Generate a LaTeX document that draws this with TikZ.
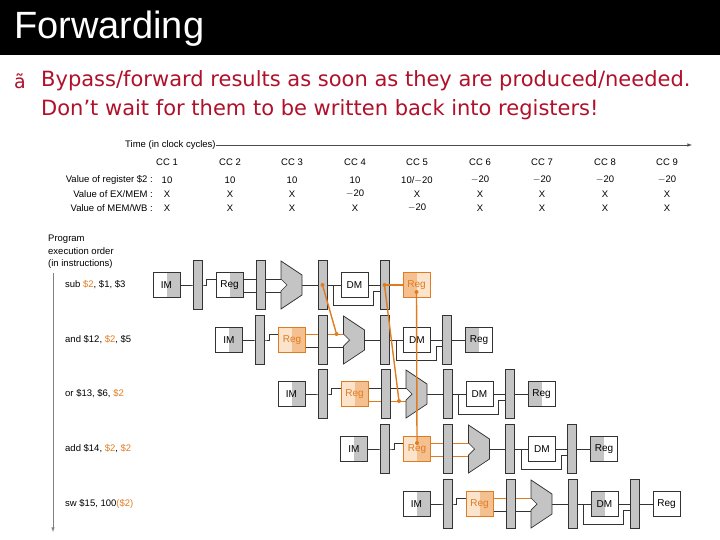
\documentclass[tikz,border=0pt]{standalone}
\usepackage{fontspec}
\setmainfont{Liberation Sans}
\newfontfamily\dejavu{DejaVu Sans}
\usetikzlibrary{calc,backgrounds}
\definecolor{fwd}{HTML}{E07B20}
\definecolor{lor}{HTML}{FBE3CC}
\definecolor{dor}{HTML}{F5C08F}
\definecolor{gfill}{HTML}{C4C4C4}
\definecolor{redtxt}{HTML}{B0102A}
\begin{document}
\begin{tikzpicture}[x=1bp,y=-1bp,font=\fontsize{9.5bp}{11bp}\selectfont,
  unit/.style={draw=black!80,line width=0.7bp,minimum width=27bp,minimum height=25bp,inner sep=0pt,font=\fontsize{10bp}{11bp}\selectfont},
  plain/.style={},
  rshade/.style={path picture={\fill[gfill] (path picture bounding box.north) rectangle (path picture bounding box.south east);}},
  lshade/.style={path picture={\fill[gfill] (path picture bounding box.north west) rectangle (path picture bounding box.south);}},
  oregr/.style={draw=fwd,text=fwd,fill=lor,path picture={\fill[dor] (path picture bounding box.north) rectangle (path picture bounding box.south east);}},
  oregl/.style={draw=fwd,text=fwd,fill=lor,path picture={\fill[dor] (path picture bounding box.north west) rectangle (path picture bounding box.south);}},
  preg/.style={draw=black!80,fill=gfill,line width=0.7bp,minimum width=9bp,minimum height=49bp,inner sep=0pt},
  wire/.style={black!80,line width=0.7bp},
  fw/.style={fwd,line width=1.4bp},
  dot/.style={circle,fill=fwd,inner sep=0pt,minimum size=4bp},
  lbl/.style={anchor=west,inner sep=0pt},
  num/.style={inner sep=0pt}]
\useasboundingbox (0,0) rectangle (720,540);
\fill[black] (0,0) rectangle (720,55);
\node[anchor=west,text=white,font=\fontsize{38bp}{40bp}\selectfont,inner sep=0pt] (title) at (14,29) {Forwarding};
\node[anchor=west,text=redtxt,font=\dejavu\fontsize{19bp}{22bp}\selectfont,inner sep=0pt] (bul) at (14,81) {ã};
\node[anchor=west,text=redtxt,font=\dejavu\fontsize{21bp}{24bp}\selectfont,inner sep=0pt] (l1) at (41,81) {Bypass/forward results as soon as they are produced/needed.};
\node[anchor=west,text=redtxt,font=\dejavu\fontsize{21bp}{24bp}\selectfont,inner sep=0pt] (l2) at (41,110) {Don’t wait for them to be written back into registers!};
% table
\node[lbl] (time) at (125,145) {Time (in clock cycles)};
\coordinate (tend) at (692,145);
\draw[black!70,line width=0.6bp,-latex] (time.east) -- (tend);
\node[anchor=east,inner sep=0pt] (r1) at (153,180) {Value of register \$2 :};
\node[anchor=east,inner sep=0pt] (r2) at (153,194) {Value of EX/MEM :};
\node[anchor=east,inner sep=0pt] (r3) at (153,208) {Value of MEM/WB :};
\foreach \k/\x/\a/\b/\c in {1/167/10/X/X,2/230/10/X/X,3/292/10/X/X,4/355/10/$-$20/X,5/417/{10/$-$20}/X/$-$20,6/480/$-$20/X/X,7/542/$-$20/X/X,8/605/$-$20/X/X,9/667/$-$20/X/X}{
  \node[num] (cc\k) at (\x,162) {CC \k};
  \node[num] (va\k) at (\x,180) {\a};
  \node[num] (vb\k) at (\x,194) {\b};
  \node[num] (vc\k) at (\x,208) {\c};
}
% program order
\node[lbl,align=left,font=\fontsize{9.5bp}{12.5bp}\selectfont] (prog) at (48,252) {Program\\execution order\\(in instructions)};
\coordinate (pt) at (53,273);
\coordinate (pb) at (53,532);
\draw[black!50,line width=0.6bp,-latex] (pt) -- (pb);
\node[lbl] (i0) at (65,285) {sub \textcolor{fwd}{\$2}, \$1, \$3};
\node[lbl] (i1) at (65,340) {and \$12, \textcolor{fwd}{\$2}, \$5};
\node[lbl] (i2) at (65,394) {or \$13, \$6, \textcolor{fwd}{\$2}};
\node[lbl] (i3) at (65,449) {add \$14, \textcolor{fwd}{\$2}, \textcolor{fwd}{\$2}};
\node[lbl] (i4) at (65,504) {sw \$15, 100\textcolor{fwd}{(\$2)}};
% pipeline rows
\foreach \i/\yc/\rgs/\dms/\wbs/\uc/\lc in {0/285/rshade/plain/oregl/black!80/black!80,1/340/oregr/plain/lshade/fwd/black!80,2/394/oregr/plain/lshade/black!80/fwd,3/449/oregr/plain/lshade/fwd/fwd,4/504/oregr/lshade/plain/fwd/black!80}{
  \pgfmathsetmacro\xo{62.5*\i}
  \node[unit,rshade] (im\i) at (166.5+\xo,\yc) {IM};
  \node[preg] (pa\i) at (197.5+\xo,\yc) {};
  \node[unit,\rgs] (rg\i) at (229.5+\xo,\yc) {Reg};
  \node[preg] (pb\i) at (260.5+\xo,\yc) {};
  \coordinate (alu\i) at (281+\xo,\yc);
  \draw[draw=black!80,fill=gfill,line width=0.7bp] (alu\i) ++(0,-24) -- ++(21,14) -- ++(0,20) -- ++(-21,14) -- ++(0,-18) -- ++(6,-6) -- ++(-6,-6) -- cycle;
  \node[preg] (pc\i) at (322.5+\xo,\yc) {};
  \node[unit,\dms] (dm\i) at (354.5+\xo,\yc) {DM};
  \node[preg] (pd\i) at (384.5+\xo,\yc) {};
  \node[unit,\wbs] (wb\i) at (416.5+\xo,\yc) {Reg};
  \begin{scope}[on background layer]
    \draw[wire] (im\i.east) -- (pa\i.east) -- ++(4,0) |- ($(rg\i.west)+(0,-6)$);
    \draw[\uc,line width=1bp] ($(rg\i.east)+(0,-6)$) -- ($(alu\i)+(0,-6)$);
    \draw[\lc,line width=1bp] ($(rg\i.east)+(0,7)$) -- ($(alu\i)+(0,7)$);
    \draw[wire] ($(alu\i)+(21,0)$) -- (dm\i.west);
    \draw[wire] (pc\i.east) -- ++(6,0) -- ++(0,20) -- ($(pd\i.west)+(-6,20)$) -- ++(0,-14) -- ($(pd\i.west)+(0,6)$);
    \draw[wire] (dm\i.east) -- (wb\i.west);
  \end{scope}
}
% row 0 write-back path highlighted
\draw[fw] (pd0.center) -- (wb0.west);
% forwarding paths
\node[dot] (f1a) at (pc0.center) {};
\node[dot] (f1b) at ($(alu1)+(-7,-6)$) {};
\draw[fw] (f1a) -- (f1b);
\node[dot] (f2a) at (pd0.center) {};
\node[dot] (f2b) at ($(alu2)+(-7,7)$) {};
\draw[fw] (f2a) -- (f2b);
\node[dot] (f3a) at ($(wb0.center)+(0,7)$) {};
\node[dot] (f3b) at ($(rg3.center)+(0,-6)$) {};
\draw[fw] (f3a) -- (f3b);
\end{tikzpicture}
\end{document}
